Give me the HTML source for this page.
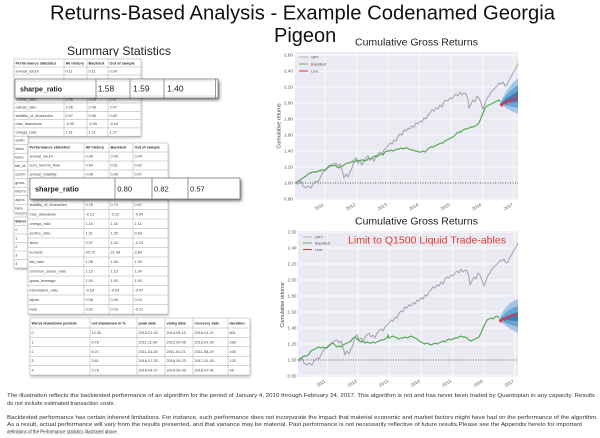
<!DOCTYPE html>
<html><head><meta charset="utf-8"><style>
html,body{margin:0;padding:0;background:#fff;}
svg{display:block;font-family:"Liberation Sans",Arial,sans-serif;}
</style></head><body>
<svg width="600" height="438" viewBox="0 0 600 438" xmlns="http://www.w3.org/2000/svg">
<defs>
<filter id="sh" x="-10%" y="-30%" width="125%" height="180%"><feDropShadow dx="1.5" dy="2" stdDeviation="1.6" flood-color="#000" flood-opacity="0.55"/></filter>
<filter id="sh2" x="-5%" y="-10%" width="110%" height="130%"><feDropShadow dx="0.5" dy="1.5" stdDeviation="1.2" flood-color="#000" flood-opacity="0.3"/></filter>
<clipPath id="c1"><rect x="295" y="52" width="223" height="148"/></clipPath>
<clipPath id="c2"><rect x="298" y="231" width="220" height="146"/></clipPath>
</defs>
<rect width="600" height="438" fill="#fff"/>

<!-- Main title -->
<text x="50" y="19.5" font-size="20" textLength="505" lengthAdjust="spacingAndGlyphs" fill="#111">Returns-Based Analysis - Example Codenamed Georgia</text>
<text x="274" y="42" font-size="20" fill="#111">Pigeon</text>

<!-- Summary Statistics -->
<text x="67" y="55" font-size="12" textLength="104" lengthAdjust="spacingAndGlyphs" fill="#222">Summary Statistics</text>
<rect x="60" y="56.3" width="120" height="3" fill="#fff"/>

<!-- ===== TABLE 1 ===== -->
<g filter="url(#sh2)">
<rect x="14" y="59" width="127" height="77.2" fill="#fff"/>
<rect x="14" y="136.2" width="14" height="76.5" fill="#fff"/>
<rect x="14" y="217" width="14" height="51" fill="#fff"/>
</g>
<g stroke="#aaa" stroke-width="0.5" fill="none">
<rect x="14" y="59" width="127" height="77.2"/>
<line x1="14" y1="67" x2="141" y2="67"/><line x1="14" y1="75" x2="141" y2="75"/>
<line x1="14" y1="83" x2="141" y2="83"/><line x1="14" y1="95" x2="141" y2="95"/>
<line x1="14" y1="103" x2="141" y2="103"/><line x1="14" y1="111.3" x2="141" y2="111.3"/>
<line x1="14" y1="119.6" x2="141" y2="119.6"/><line x1="14" y1="127.9" x2="141" y2="127.9"/>
<line x1="64" y1="59" x2="64" y2="136.2"/><line x1="87" y1="59" x2="87" y2="136.2"/><line x1="108" y1="59" x2="108" y2="136.2"/>
<rect x="14" y="136.2" width="14" height="76.5"/>
<line x1="14" y1="144.7" x2="28" y2="144.7"/><line x1="14" y1="153.2" x2="28" y2="153.2"/><line x1="14" y1="161.7" x2="28" y2="161.7"/>
<line x1="14" y1="170.2" x2="28" y2="170.2"/><line x1="14" y1="178.7" x2="28" y2="178.7"/><line x1="14" y1="187.2" x2="28" y2="187.2"/>
<line x1="14" y1="195.7" x2="28" y2="195.7"/><line x1="14" y1="204.2" x2="28" y2="204.2"/>
<rect x="14" y="217" width="14" height="51"/>
<line x1="14" y1="225.5" x2="28" y2="225.5"/><line x1="14" y1="234" x2="28" y2="234"/><line x1="14" y1="242.5" x2="28" y2="242.5"/>
<line x1="14" y1="251" x2="28" y2="251"/><line x1="14" y1="259.5" x2="28" y2="259.5"/>
</g>
<g font-size="3.8" fill="#444">
<g font-weight="bold" fill="#333"><text x="15.5" y="64.5">Performance statistics</text><text x="65.5" y="64.5">All history</text><text x="88.5" y="64.5">Backtest</text><text x="109.5" y="64.5">Out of sample</text></g>
<text x="15.5" y="72.5">annual_return</text><text x="65.5" y="72.5">0.11</text><text x="88.5" y="72.5">0.11</text><text x="109.5" y="72.5">0.09</text>
<text x="15.5" y="100.5">sortino_ratio</text><text x="65.5" y="100.5">2.06</text><text x="88.5" y="100.5">2.08</text><text x="109.5" y="100.5">2.47</text>
<text x="15.5" y="108.5">calmar_ratio</text><text x="65.5" y="108.5">2.06</text><text x="88.5" y="108.5">2.08</text><text x="109.5" y="108.5">2.47</text>
<text x="15.5" y="116.8">stability_of_timeseries</text><text x="65.5" y="116.8">0.97</text><text x="88.5" y="116.8">0.96</text><text x="109.5" y="116.8">0.69</text>
<text x="15.5" y="125.1">max_drawdown</text><text x="65.5" y="125.1">-0.05</text><text x="88.5" y="125.1">-0.05</text><text x="109.5" y="125.1">-0.04</text>
<text x="15.5" y="133.4">omega_ratio</text><text x="65.5" y="133.4">1.31</text><text x="88.5" y="133.4">1.31</text><text x="109.5" y="133.4">1.27</text>
<text x="15.2" y="141.7">sortin</text><text x="15.2" y="150.2">skew</text><text x="15.2" y="158.7">kurto</text><text x="15.2" y="167.2">tail_ra</text>
<text x="15.2" y="175.7">comm</text><text x="15.2" y="184.2">gross</text><text x="15.2" y="192.7">inform</text><text x="15.2" y="201.2">alpha</text><text x="15.2" y="209.7">beta</text>
<text x="15.2" y="222.5" font-weight="bold" fill="#333">Worst</text><text x="15.2" y="231">0</text><text x="15.2" y="239.5">1</text><text x="15.2" y="248">2</text><text x="15.2" y="256.5">3</text><text x="15.2" y="265">4</text>
</g>

<!-- Overlay 1 -->
<g filter="url(#sh)"><rect x="15" y="79" width="203" height="19" fill="#fff"/></g>
<g stroke="#666" stroke-width="0.7" fill="none">
<rect x="15" y="79" width="203" height="19"/>
<line x1="96" y1="79" x2="96" y2="98"/><line x1="130" y1="79" x2="130" y2="98"/><line x1="164" y1="79" x2="164" y2="98"/><line x1="215.5" y1="79" x2="215.5" y2="98"/>
</g>
<line x1="15" y1="81" x2="218" y2="81" stroke="#bbb" stroke-width="0.5"/>
<line x1="15" y1="96" x2="218" y2="96" stroke="#bbb" stroke-width="0.5"/>
<text x="20" y="91.5" font-size="7" font-weight="bold" fill="#222">sharpe_ratio</text>
<g font-size="8.5" fill="#222"><text x="97.7" y="91.5">1.58</text><text x="133" y="91.5">1.59</text><text x="167" y="91.5">1.40</text></g>

<!-- ===== TABLE 2 ===== -->
<g filter="url(#sh2)"><rect x="28" y="143" width="140" height="171" fill="#fff"/></g>
<g stroke="#aaa" stroke-width="0.5" fill="none">
<rect x="28" y="143" width="140" height="171"/>
<line x1="28" y1="152" x2="168" y2="152"/><line x1="28" y1="161" x2="168" y2="161"/><line x1="28" y1="170" x2="168" y2="170"/><line x1="28" y1="179" x2="168" y2="179"/>
<line x1="28" y1="189.5" x2="168" y2="189.5"/><line x1="28" y1="200" x2="168" y2="200"/><line x1="28" y1="209.5" x2="168" y2="209.5"/>
<line x1="28" y1="219" x2="168" y2="219"/><line x1="28" y1="228.5" x2="168" y2="228.5"/><line x1="28" y1="238" x2="168" y2="238"/>
<line x1="28" y1="247.5" x2="168" y2="247.5"/><line x1="28" y1="257" x2="168" y2="257"/><line x1="28" y1="266.5" x2="168" y2="266.5"/>
<line x1="28" y1="276" x2="168" y2="276"/><line x1="28" y1="285.5" x2="168" y2="285.5"/><line x1="28" y1="295" x2="168" y2="295"/><line x1="28" y1="304.5" x2="168" y2="304.5"/>
<line x1="84" y1="143" x2="84" y2="314"/><line x1="109" y1="143" x2="109" y2="314"/><line x1="133" y1="143" x2="133" y2="314"/>
</g>
<g font-size="3.8" fill="#444">
<g font-weight="bold" fill="#333"><text x="29.5" y="148.7">Performance statistics</text><text x="85.5" y="148.7">All history</text><text x="110.5" y="148.7">Backtest</text><text x="134.5" y="148.7">Out of sample</text></g>
<text x="29.5" y="157.7">annual_return</text><text x="85.5" y="157.7">0.06</text><text x="110.5" y="157.7">0.06</text><text x="134.5" y="157.7">0.04</text>
<text x="29.5" y="166.7">cum_returns_final</text><text x="85.5" y="166.7">0.54</text><text x="110.5" y="166.7">0.51</text><text x="134.5" y="166.7">0.02</text>
<text x="29.5" y="175.7">annual_volatility</text><text x="85.5" y="175.7">0.08</text><text x="110.5" y="175.7">0.08</text><text x="134.5" y="175.7">0.07</text>
<text x="29.5" y="205.8">stability_of_timeseries</text><text x="85.5" y="205.8">0.78</text><text x="110.5" y="205.8">0.73</text><text x="134.5" y="205.8">0.67</text>
<text x="29.5" y="215.3">max_drawdown</text><text x="85.5" y="215.3">-0.12</text><text x="110.5" y="215.3">-0.12</text><text x="134.5" y="215.3">-0.04</text>
<text x="29.5" y="224.8">omega_ratio</text><text x="85.5" y="224.8">1.16</text><text x="110.5" y="224.8">1.16</text><text x="134.5" y="224.8">1.11</text>
<text x="29.5" y="234.3">sortino_ratio</text><text x="85.5" y="234.3">1.21</text><text x="110.5" y="234.3">1.25</text><text x="134.5" y="234.3">0.83</text>
<text x="29.5" y="243.8">skew</text><text x="85.5" y="243.8">0.97</text><text x="110.5" y="243.8">1.04</text><text x="134.5" y="243.8">-0.19</text>
<text x="29.5" y="253.3">kurtosis</text><text x="85.5" y="253.3">20.70</text><text x="110.5" y="253.3">21.48</text><text x="134.5" y="253.3">3.89</text>
<text x="29.5" y="262.8">tail_ratio</text><text x="85.5" y="262.8">1.08</text><text x="110.5" y="262.8">1.06</text><text x="134.5" y="262.8">1.29</text>
<text x="29.5" y="272.3">common_sense_ratio</text><text x="85.5" y="272.3">1.15</text><text x="110.5" y="272.3">1.13</text><text x="134.5" y="272.3">1.34</text>
<text x="29.5" y="281.8">gross_leverage</text><text x="85.5" y="281.8">1.00</text><text x="110.5" y="281.8">1.00</text><text x="134.5" y="281.8">1.00</text>
<text x="29.5" y="291.3">information_ratio</text><text x="85.5" y="291.3">-0.03</text><text x="110.5" y="291.3">-0.03</text><text x="134.5" y="291.3">-0.07</text>
<text x="29.5" y="300.8">alpha</text><text x="85.5" y="300.8">0.06</text><text x="110.5" y="300.8">0.06</text><text x="134.5" y="300.8">0.04</text>
<text x="29.5" y="310.3">beta</text><text x="85.5" y="310.3">0.02</text><text x="110.5" y="310.3">0.03</text><text x="134.5" y="310.3">-0.01</text>
</g>

<!-- Overlay 2 -->
<g filter="url(#sh)"><rect x="30" y="178" width="210" height="21" fill="#fff"/></g>
<g stroke="#666" stroke-width="0.7" fill="none">
<rect x="30" y="178" width="210" height="21"/>
<line x1="115" y1="178" x2="115" y2="199"/><line x1="152" y1="178" x2="152" y2="199"/><line x1="188" y1="178" x2="188" y2="199"/>
</g>
<text x="35" y="191.5" font-size="7.3" font-weight="bold" fill="#222">sharpe_ratio</text>
<g font-size="7.6" fill="#222"><text x="117.3" y="191.5">0.80</text><text x="154" y="191.5">0.82</text><text x="190" y="191.5">0.57</text></g>

<!-- ===== DRAWDOWN TABLE ===== -->
<g filter="url(#sh2)"><rect x="30" y="318" width="220" height="57" fill="#fff"/></g>
<g stroke="#aaa" stroke-width="0.5" fill="none">
<rect x="30" y="318" width="220" height="57"/>
<line x1="30" y1="328" x2="250" y2="328"/><line x1="30" y1="337.4" x2="250" y2="337.4"/><line x1="30" y1="346.8" x2="250" y2="346.8"/>
<line x1="30" y1="356.2" x2="250" y2="356.2"/><line x1="30" y1="365.6" x2="250" y2="365.6"/>
<line x1="90" y1="318" x2="90" y2="375"/><line x1="137" y1="318" x2="137" y2="375"/><line x1="165" y1="318" x2="165" y2="375"/>
<line x1="193" y1="318" x2="193" y2="375"/><line x1="228" y1="318" x2="228" y2="375"/>
</g>
<line x1="30" y1="378" x2="250" y2="378" stroke="#ddd" stroke-width="1"/>
<g font-size="3.8" fill="#444">
<g font-weight="bold" fill="#333"><text x="31.5" y="324.3">Worst drawdown periods</text><text x="91.5" y="324.3">net drawdown in %</text><text x="138.5" y="324.3">peak date</text><text x="166.5" y="324.3">valley date</text><text x="194.5" y="324.3">recovery date</text><text x="229.5" y="324.3">duration</text></g>
<text x="31.5" y="334">0</text><text x="91.5" y="334">12.35</text><text x="138.5" y="334">2013-01-02</text><text x="166.5" y="334">2014-05-12</text><text x="194.5" y="334">2016-01-27</text><text x="229.5" y="334">801</text>
<text x="31.5" y="343.4">1</text><text x="91.5" y="343.4">9.78</text><text x="138.5" y="343.4">2011-11-30</text><text x="166.5" y="343.4">2012-02-06</text><text x="194.5" y="343.4">2013-01-02</text><text x="229.5" y="343.4">286</text>
<text x="31.5" y="352.8">2</text><text x="91.5" y="352.8">6.07</text><text x="138.5" y="352.8">2011-04-05</text><text x="166.5" y="352.8">2011-04-21</text><text x="194.5" y="352.8">2011-08-29</text><text x="229.5" y="352.8">105</text>
<text x="31.5" y="362.2">3</text><text x="91.5" y="362.2">3.61</text><text x="138.5" y="362.2">2016-07-20</text><text x="166.5" y="362.2">2016-09-23</text><text x="194.5" y="362.2">2017-01-03</text><text x="229.5" y="362.2">120</text>
<text x="31.5" y="371.6">4</text><text x="91.5" y="371.6">3.76</text><text x="138.5" y="371.6">2016-04-27</text><text x="166.5" y="371.6">2016-06-03</text><text x="194.5" y="371.6">2016-07-01</text><text x="229.5" y="371.6">48</text>
</g>

<!-- ===== CHART 1 ===== -->
<text x="355" y="45.6" font-size="10.2" textLength="123" lengthAdjust="spacingAndGlyphs" fill="#222">Cumulative Gross Returns</text>
<rect x="295" y="52" width="223" height="148" fill="#eaeaf2"/>
<g stroke="#fff" stroke-width="0.7">
<line x1="295" y1="55" x2="518" y2="55"/><line x1="295" y1="71" x2="518" y2="71"/><line x1="295" y1="87" x2="518" y2="87"/><line x1="295" y1="103" x2="518" y2="103"/>
<line x1="295" y1="119" x2="518" y2="119"/><line x1="295" y1="135" x2="518" y2="135"/><line x1="295" y1="151" x2="518" y2="151"/><line x1="295" y1="167" x2="518" y2="167"/>
<line x1="295" y1="199" x2="518" y2="199"/>
<line x1="325" y1="52" x2="325" y2="200"/><line x1="356.5" y1="52" x2="356.5" y2="200"/><line x1="388" y1="52" x2="388" y2="200"/><line x1="419.5" y1="52" x2="419.5" y2="200"/>
<line x1="451" y1="52" x2="451" y2="200"/><line x1="482.5" y1="52" x2="482.5" y2="200"/><line x1="514" y1="52" x2="514" y2="200"/>
</g>
<line x1="295" y1="183" x2="518" y2="183" stroke="#333" stroke-width="0.7" stroke-dasharray="1,1.5"/>
<g clip-path="url(#c1)">
<path d="M500,104 Q506,88 518,78 L518,114 Q508,110 500,104 Z" fill="#a3c6e4"/>
<path d="M500,104 Q507,92 518,85 L518,108 Q508,106 500,104 Z" fill="#6aa2d2"/>
<path d="M500,104 Q508,97 518,91 L518,102 Q508,102 500,104 Z" fill="#3c7bb8"/>
<path id="spy" fill="none" stroke="#a9a5b0" stroke-width="1.1" stroke-linejoin="round" d="M295,183 L298,184 301,181 303,186 306,188 308,186 311,188 313,184 316,181 318,182 321,176 323,172 326,170 328,168 331,166 333,164 336,163 338,166 340,164 342,170 344,178 346,174 348,177 350,172 352,168 354,160 356,158 358,163 360,161 362,165 364,160 366,158 368,156 370,160 372,158 374,161 376,156 378,154 380,152 382,154 384,150 386,148 388,146 390,143 392,144 394,140 396,141 398,136 400,134 402,135 404,130 406,131 408,128 410,129 412,126 414,127 416,123 418,124 420,121 422,122 424,118 426,119 428,115 430,113 432,110 434,111 436,108 438,109 440,105 442,107 444,102 446,100 448,101 450,98 452,99 454,96 456,94 458,96 460,92 462,95 464,93 466,94 468,100 469,108 471,104 473,100 475,102 477,96 479,98 481,103 483,109 485,104 487,98 489,96 491,92 493,90 495,88 497,86 499,83 501,84 503,82 505,86 507,85 509,80 511,77 513,73 515,70 517,66 518,63"/>
<path fill="none" stroke="#52a852" stroke-width="1.2" stroke-linejoin="round" d="M295,183 L297,182 300,180 303,178 306,176 308,174 310,173 313,172 316,172 319,171 322,170 325,170 327,168 329,166 331,165 333,166 335,165 337,167 339,168 341,166 343,166 345,164 347,163 349,163 351,162 353,161 355,162 357,160 359,161 361,160 363,160 365,161 367,160 369,158 371,159 373,157 375,156 377,157 379,155 381,154 383,155 385,152 387,151 389,151 391,150 393,151 395,150 397,149 399,149 401,148 403,149 405,148 407,148 409,149 411,150 413,150 415,151 417,151 419,152 421,152 423,151 425,152 427,150 429,148 431,147 433,147 435,146 437,145 439,144 441,143 443,143 445,141 447,140 449,139 451,138 453,137 455,135 457,133 459,132 461,132 463,130 465,129 467,129 469,128 471,127 473,127 475,126 477,125 479,123 481,118 483,113 485,108 487,106 489,105 491,104 493,103 495,102 497,101 499,100 500,102"/>
<path fill="none" stroke="#d9363e" stroke-width="1.4" stroke-linejoin="round" d="M500,104 L502,106 504,102 506,104 508,100 510,102 512,99 514,100 516,97 518,96"/>
</g>
<g font-size="4" fill="#555">
<line x1="299" y1="57" x2="308" y2="57" stroke="#a9a5b0" stroke-width="0.8"/><text x="311" y="58.4">SPY</text>
<line x1="299" y1="64" x2="308" y2="64" stroke="#52a852" stroke-width="0.9"/><text x="311" y="65.4">Backtest</text>
<line x1="299" y1="71" x2="308" y2="71" stroke="#d9363e" stroke-width="1"/><text x="311" y="72.4">Live</text>
</g>
<g font-size="4.6" fill="#555" text-anchor="end">
<text x="293" y="56.6">2.60</text><text x="293" y="72.6">2.40</text><text x="293" y="88.6">2.20</text><text x="293" y="104.6">2.00</text><text x="293" y="120.6">1.80</text>
<text x="293" y="136.6">1.60</text><text x="293" y="152.6">1.40</text><text x="293" y="168.6">1.20</text><text x="293" y="184.6">1.00</text><text x="293" y="200.6">0.80</text>
</g>
<text transform="translate(280.5,126) rotate(-90)" font-size="5.4" fill="#444" text-anchor="middle">Cumulative returns</text>
<g font-size="4.5" fill="#555" text-anchor="middle">
<text transform="translate(320,208) rotate(-30)">2011</text><text transform="translate(351.5,208) rotate(-30)">2012</text><text transform="translate(383,208) rotate(-30)">2013</text>
<text transform="translate(414.5,208) rotate(-30)">2014</text><text transform="translate(446,208) rotate(-30)">2015</text><text transform="translate(477.5,208) rotate(-30)">2016</text><text transform="translate(509,208) rotate(-30)">2017</text>
</g>

<!-- ===== CHART 2 ===== -->
<text x="355" y="224.6" font-size="10.2" textLength="123" lengthAdjust="spacingAndGlyphs" fill="#222">Cumulative Gross Returns</text>
<rect x="298" y="231" width="220" height="146" fill="#eaeaf2"/>
<g stroke="#fff" stroke-width="0.7">
<line x1="298" y1="232" x2="518" y2="232"/><line x1="298" y1="248" x2="518" y2="248"/><line x1="298" y1="264" x2="518" y2="264"/><line x1="298" y1="280" x2="518" y2="280"/>
<line x1="298" y1="296" x2="518" y2="296"/><line x1="298" y1="312" x2="518" y2="312"/><line x1="298" y1="328" x2="518" y2="328"/><line x1="298" y1="344" x2="518" y2="344"/>
<line x1="298" y1="376" x2="518" y2="376"/>
<line x1="327" y1="231" x2="327" y2="377"/><line x1="358" y1="231" x2="358" y2="377"/><line x1="389.5" y1="231" x2="389.5" y2="377"/><line x1="421" y1="231" x2="421" y2="377"/>
<line x1="452.5" y1="231" x2="452.5" y2="377"/><line x1="484" y1="231" x2="484" y2="377"/><line x1="515" y1="231" x2="515" y2="377"/>
</g>
<line x1="298" y1="360" x2="518" y2="360" stroke="#333" stroke-width="0.7" stroke-dasharray="1,1.5"/>
<g clip-path="url(#c2)">
<path d="M499,320 Q505,303 518,299 L518,333 Q507,328 499,320 Z" fill="#a3c6e4"/>
<path d="M499,320 Q507,309 518,306 L518,327 Q507,324 499,320 Z" fill="#6aa2d2"/>
<path d="M499,320 Q508,315 518,312 L518,321 Q508,320 499,320 Z" fill="#3c7bb8"/>
<use href="#spy" transform="translate(1,177)"/>
<path fill="none" stroke="#52a852" stroke-width="1.2" stroke-linejoin="round" d="M298,360 L301,358 304,356 307,356 309,354 311,351 313,350 315,349 317,348 319,347 321,348 323,347 325,348 327,348 329,346 331,344 333,343 335,345 337,347 339,346 341,347 343,345 345,344 347,343 349,342 351,341 353,338 355,337 357,339 359,341 361,342 363,341 365,343 367,342 369,343 371,343 373,342 375,343 377,342 379,341 381,340 383,340 385,339 387,338 388,335 389,338 391,337 393,336 395,337 397,338 399,339 401,338 403,338 405,337 407,338 409,337 411,336 413,337 415,338 417,339 419,341 421,342 423,343 425,344 427,343 429,344 431,345 433,344 435,343 437,344 439,343 441,342 443,341 445,342 447,340 449,339 451,340 453,339 455,338 457,338 459,337 461,336 463,337 465,337 467,338 469,340 471,341 473,340 475,339 477,338 479,337 481,333 483,328 485,324 487,320 489,319 491,318 493,319 495,317 497,316 499,318"/>
<path fill="none" stroke="#d9363e" stroke-width="1.4" stroke-linejoin="round" d="M499,320 L501,322 503,318 505,320 507,317 509,318 511,315 513,316 515,314 518,315"/>
</g>
<g font-size="4" fill="#555">
<line x1="303" y1="237" x2="312" y2="237" stroke="#a9a5b0" stroke-width="0.8"/><text x="315" y="238.4">SPY</text>
<line x1="303" y1="243" x2="312" y2="243" stroke="#52a852" stroke-width="0.9"/><text x="315" y="244.4">Backtest</text>
<line x1="303" y1="249.5" x2="312" y2="249.5" stroke="#d9363e" stroke-width="1"/><text x="315" y="250.9">Live</text>
</g>
<text x="348" y="243.5" font-size="10.5" textLength="158" lengthAdjust="spacingAndGlyphs" fill="#e53a2c">Limit to Q1500 Liquid Trade-ables</text>
<g font-size="4.6" fill="#555" text-anchor="end">
<text x="296.5" y="233.6">2.60</text><text x="296.5" y="249.6">2.40</text><text x="296.5" y="265.6">2.20</text><text x="296.5" y="281.6">2.00</text><text x="296.5" y="297.6">1.80</text>
<text x="296.5" y="313.6">1.60</text><text x="296.5" y="329.6">1.40</text><text x="296.5" y="345.6">1.20</text><text x="296.5" y="361.6">1.00</text><text x="296.5" y="377.6">0.80</text>
</g>
<text transform="translate(284,305) rotate(-90)" font-size="5.4" fill="#444" text-anchor="middle">Cumulative returns</text>
<g font-size="4.5" fill="#555" text-anchor="middle">
<text transform="translate(322,384.5) rotate(-30)">2011</text><text transform="translate(353,384.5) rotate(-30)">2012</text><text transform="translate(384.5,384.5) rotate(-30)">2013</text>
<text transform="translate(416,384.5) rotate(-30)">2014</text><text transform="translate(447.5,384.5) rotate(-30)">2015</text><text transform="translate(479,384.5) rotate(-30)">2016</text><text transform="translate(510,384.5) rotate(-30)">2017</text>
</g>

<!-- ===== FOOTER ===== -->
<g font-size="5.6" fill="#333">
<text x="7" y="397" textLength="588" lengthAdjust="spacingAndGlyphs">The illustration reflects the backtested performance of an algorithm for the period of January 4, 2010 through February 24, 2017. This algorithm is not and has never been traded by Quantopian in any capacity. Results</text>
<text x="7" y="405" textLength="108" lengthAdjust="spacingAndGlyphs">do not include estimated transaction costs.</text>
<text x="7" y="419" textLength="591" lengthAdjust="spacingAndGlyphs">Backtested performance has certain inherent limitations.  For instance, such performance does not incorporate the impact that material economic and market factors might have had on the performance of the algorithm.</text>
<text x="7" y="426" textLength="575" lengthAdjust="spacingAndGlyphs">As a result, actual performance will vary from the results presented, and that variance may be material. Past performance is not necessarily reflective of future results.Please see the Appendix hereto for important</text>
<text x="7" y="433.5" textLength="111" lengthAdjust="spacingAndGlyphs">definitions of the Performance statistics illustrated above.</text>
</g>
</svg>
</body></html>
